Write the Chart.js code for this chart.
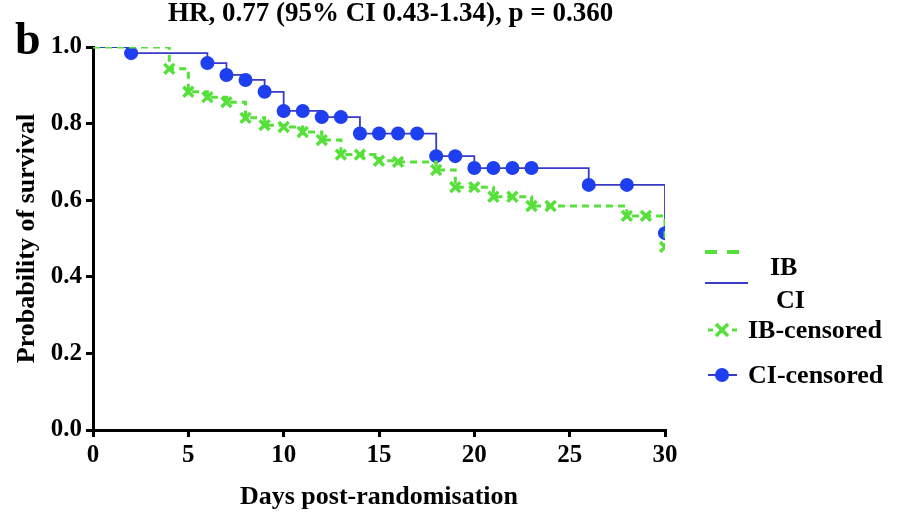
<!DOCTYPE html>
<html>
<head>
<meta charset="utf-8">
<script src="https://cdn.jsdelivr.net/npm/chart.js@4.4.1/dist/chart.umd.min.js"></script>
<style>
    body { margin: 0; background: #fff; }
    .wrap { position: relative; width: 904px; height: 513px; font-family: "Liberation Serif", "Times New Roman", serif; font-weight: bold; color: #000; }
    canvas { position: absolute; left: 0; top: 0; }
    .txt { position: absolute; white-space: nowrap; font-size: 26px; line-height: 26px; }
    .legend-mark { position: absolute; }
</style>
</head>
<body>
<div class="wrap">
    <canvas id="kmChart" width="904" height="513"></canvas>
    <div class="txt" style="left: 15px; top: 16px; font-size: 46px; line-height: 46px;">b</div>
    <div class="txt" style="left: 168px; top: -1px; font-size: 27px; line-height: 27px;">HR, 0.77 (95% CI 0.43-1.34), p = 0.360</div>

    <svg class="legend-mark" style="left: 700px; top: 240px;" width="60" height="150">
        <line x1="5" y1="12" x2="41" y2="12" stroke="#55e03a" stroke-width="4" stroke-dasharray="12 10"></line>
        <line x1="5" y1="43" x2="48" y2="43" stroke="#3a3ac8" stroke-width="2"></line>
        <line x1="8" y1="90" x2="13" y2="90" stroke="#55e03a" stroke-width="3"></line>
        <line x1="32" y1="90" x2="37" y2="90" stroke="#55e03a" stroke-width="3"></line>
        <line x1="16" y1="84" x2="28" y2="96" stroke="#55e03a" stroke-width="3.5"></line>
        <line x1="28" y1="84" x2="16" y2="96" stroke="#55e03a" stroke-width="3.5"></line>
        <line x1="8" y1="135" x2="37" y2="135" stroke="#3a3ac8" stroke-width="2"></line>
        <circle cx="22" cy="135" r="7" fill="#1d3ff0"></circle>
    </svg>
    <div class="txt" style="left: 770px; top: 254px;">IB</div>
    <div class="txt" style="left: 776px; top: 287px;">CI</div>
    <div class="txt" style="left: 748px; top: 317px;">IB-censored</div>
    <div class="txt" style="left: 748px; top: 362px;">CI-censored</div>
</div>
<script>
// Kaplan-Meier curves
const ibDays = [0, 4, 5, 6, 7, 8, 9, 10, 11, 12, 13, 14, 15, 16, 18, 19, 20, 21, 22, 23, 24, 28, 29, 30];
const ibSurvival = [1.0, 0.943, 0.883, 0.869, 0.856, 0.815, 0.796, 0.791, 0.778, 0.757, 0.719, 0.719, 0.703, 0.700, 0.679, 0.634, 0.634, 0.609, 0.609, 0.585, 0.585, 0.559, 0.559, 0.478];

const ciDays = [0, 2, 6, 7, 8, 9, 10, 11, 12, 13, 14, 15, 16, 17, 18, 19, 20, 21, 22, 23, 26, 28, 30];
const ciSurvival = [1.0, 0.984, 0.958, 0.927, 0.914, 0.883, 0.833, 0.833, 0.817, 0.817, 0.774, 0.774, 0.774, 0.774, 0.715, 0.715, 0.684, 0.684, 0.684, 0.684, 0.640, 0.640, 0.514];

const xTicks = [0, 5, 10, 15, 20, 25, 30];
const yTicks = [0, 0.2, 0.4, 0.6, 0.8, 1.0];

const green = "#55e03a";
const blue = "#1d3ff0";
const blueLine = "#3a3ac8";

function toPoints(days, values) {
    return days.map(function (d, i) {
        return { x: d, y: values[i] };
    });
}

// censored marks sit at every recorded day except the start
function censored(days, values) {
    return toPoints(days, values).slice(1);
}

const tickFont = { family: "'Liberation Serif', serif", size: 25, weight: "bold" };

new Chart(document.getElementById("kmChart"), {
    type: "line",
    data: {
        datasets: [
            {
                label: "IB",
                data: toPoints(ibDays, ibSurvival),
                stepped: "before",
                borderColor: green,
                borderWidth: 3,
                borderDash: [7, 5],
                pointRadius: 0,
                fill: false,
                order: 1
            },
            {
                label: "IB-censored",
                data: censored(ibDays, ibSurvival),
                showLine: false,
                pointStyle: "crossRot",
                pointRadius: 7,
                pointBorderWidth: 3.5,
                borderColor: green,
                backgroundColor: green,
                order: 0
            },
            {
                label: "CI",
                data: toPoints(ciDays, ciSurvival),
                stepped: "before",
                borderColor: blueLine,
                borderWidth: 1.8,
                pointRadius: 0,
                fill: false,
                order: 3
            },
            {
                label: "CI-censored",
                data: censored(ciDays, ciSurvival),
                showLine: false,
                pointStyle: "circle",
                pointRadius: 7,
                pointBorderWidth: 0,
                borderColor: blue,
                backgroundColor: blue,
                order: 2
            }
        ]
    },
    options: {
        responsive: false,
        animation: false,
        devicePixelRatio: 1,
        layout: { padding: { left: 0, right: 239, top: 47, bottom: 0 } },
        plugins: {
            legend: { display: false },
            tooltip: { enabled: false }
        },
        scales: {
            x: {
                type: "linear",
                min: 0,
                max: 30,
                afterBuildTicks: function (scale) {
                    scale.ticks = xTicks.map(function (v) { return { value: v }; });
                },
                afterFit: function (scale) {
                    scale.height = 83;
                },
                ticks: { font: tickFont, color: "#000", padding: 4, maxRotation: 0 },
                grid: { drawOnChartArea: false, drawTicks: true, tickLength: 7, color: "#000", lineWidth: 3 },
                border: { display: true, color: "#000", width: 3 },
                title: {
                    display: true,
                    text: "Days post-randomisation",
                    font: { family: "'Liberation Serif', serif", size: 26, weight: "bold" },
                    color: "#000",
                    padding: { top: 0, bottom: 0 }
                }
            },
            y: {
                min: 0,
                max: 1,
                afterBuildTicks: function (scale) {
                    scale.ticks = yTicks.map(function (v) { return { value: v }; });
                },
                afterFit: function (scale) {
                    scale.width = 93;
                },
                ticks: {
                    font: tickFont,
                    color: "#000",
                    padding: 4,
                    callback: function (value) { return Number(value).toFixed(1); }
                },
                grid: { drawOnChartArea: false, drawTicks: true, tickLength: 7, color: "#000", lineWidth: 3 },
                border: { display: true, color: "#000", width: 3 },
                title: {
                    display: true,
                    text: "Probability of survival",
                    font: { family: "'Liberation Serif', serif", size: 26, weight: "bold" },
                    color: "#000",
                    padding: { top: 12, bottom: 0 }
                }
            }
        }
    }
});
</script>
</body>
</html>
